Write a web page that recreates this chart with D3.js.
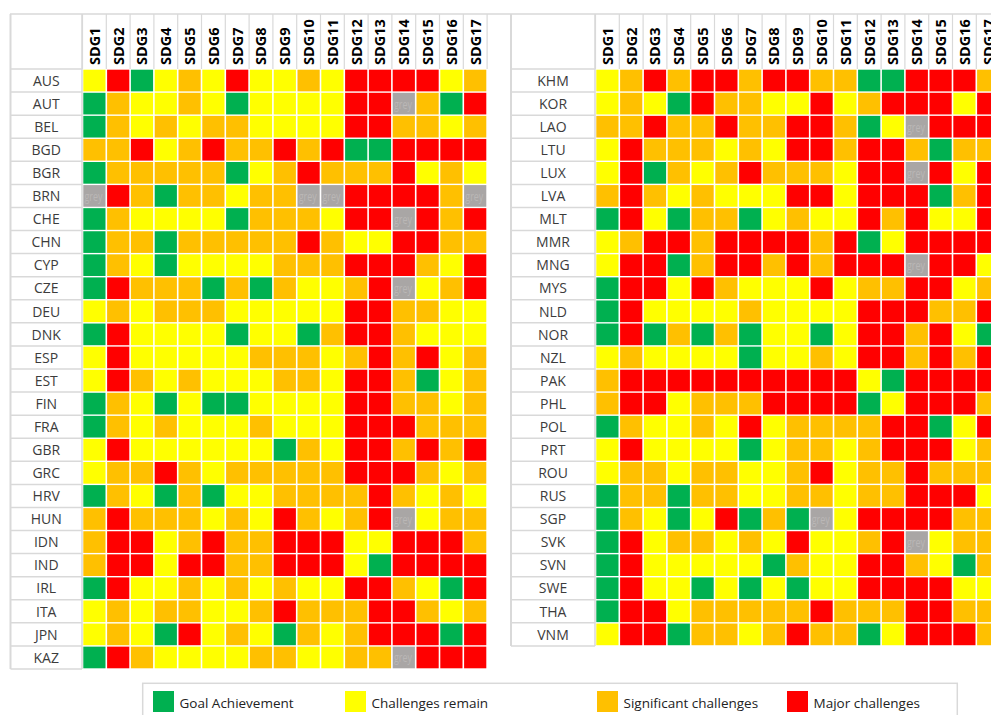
<!DOCTYPE html>
<html><head><meta charset="utf-8">
<script src="https://cdn.jsdelivr.net/npm/d3@7"></script>
<style>body{margin:0;background:#fff}svg{display:block}</style>
</head><body>
<svg id="c" width="991" height="715"></svg>
<script>
// ---------------- DATA ----------------
const sdgs = ["SDG1","SDG2","SDG3","SDG4","SDG5","SDG6","SDG7","SDG8","SDG9","SDG10","SDG11","SDG12","SDG13","SDG14","SDG15","SDG16","SDG17"];
// status codes: G = goal achievement, Y = challenges remain, O = significant challenges, R = major challenges, X = grey (no data)
const statusCodes = ["G","Y","O","R","X"];
const legendLabels = ["Goal Achievement","Challenges remain","Significant challenges","Major challenges"];

const countriesLeft = ["AUS","AUT","BEL","BGD","BGR","BRN","CHE","CHN","CYP","CZE","DEU","DNK","ESP","EST","FIN","FRA","GBR","GRC","HRV","HUN","IDN","IND","IRL","ITA","JPN","KAZ"];
const statusLeft = [
  "YRGYOYRYYOYRRRRYO","GOYYOYGYYYYRRXOGR","GOYOYOOYYYYRROOYO","OORYOROORORGGRRRR",
  "GOOOOOGYOROOORYOY","XROGOOYOOXXRRRROX","GOYYYYGOOOYRRXROR","GOOGOOOOOROYYRROO",
  "GOYGYYYYOOORRROYR","GROOOGOGOYYORXYOR","YOYOOOYYYYYRROOYY","GRYYYYGYYGORROYYY",
  "YRYYYYYOOOYORORYO","YROYOYYYOOYRROGYO","GOYGYGGYYYYRROOYO","GOYOYYYOYYYRRROOO",
  "YRYYYYYYGOYRROROR","YOOROYOOOOORRROYO","GOYGOGYYOOOOROYOY","OROOOYOYROYORXYOO",
  "ORRYOROORRRYYRRRO","ORRYRROORRRYGRRRR","GRYYOYOYOYYRROYGR","YOYOOYYOROOORROYO",
  "YOYGRYOYGOYORRRGR","GROYYYYOOYYOOXRRR"
];

const countriesRight = ["KHM","KOR","LAO","LTU","LUX","LVA","MLT","MMR","MNG","MYS","NLD","NOR","NZL","PAK","PHL","POL","PRT","ROU","RUS","SGP","SVK","SVN","SWE","THA","VNM"];
const statusRight = [
  "YORORRORROOGGRRRO","YOYGROOYYRYORRRYR","OOROOROORROGYXRRR","YROOOYOYRRORROGOO",
  "YRGOYOROOOYRRXRYR","OROYOYYYRRYRRRGOR","GRYGOOGYOYYRORYYR","YORRORRRRORGYRRRR",
  "YRRGORRORORRRXRRY","GRRYROYYYRYOORRYO","GRYYYYOYYYYRRROOR","GRGOGOGYYGYRRORYG",
  "YOYYYYGYYOYRROROR","ORRRRRRRRRRYGRRRR","ORRYOOORRRRGYRRRO","GOYYOYRYOOOORRGYR",
  "YRYYYYGYOOYORRRYO","YOOYOOYYORYOOROOO","GOOGOOYYOOYOORRRY","GOYGYRGOGXYRRRROO",
  "GRYOOYOYRYYORXYOO","GRYYYYYGOYYRROYGO","GRYYGYGYGYYRRRRYY","GRRYOOOOOROOORROO",
  "YRRGOOYOROOGYRRRO"
];

// ---------------- DRAW ----------------
(function () {
const svg = d3.select("#c");
const color = d3.scaleOrdinal().domain(statusCodes).range(["#00B050","#FFFF00","#FFC000","#FF0000","#A9A6A5"]);
const gridC = "#d9d9d9";
const rowStep = 600/26;
const colStep = 23.8;
const topY = 14, headBottom = 69;
let clipN = 0;

function panel(countries, rows, labelX0, labelX1, x0) {
  const g = svg.append("g");
  const x = d3.scaleBand().domain(sdgs).range([x0, x0 + colStep*sdgs.length]);
  const y = d3.scaleBand().domain(countries).range([headBottom, headBottom + rowStep*countries.length]);
  const yEnd = headBottom + rowStep*countries.length;
  // label column cells
  g.selectAll("line.rowl").data(d3.range(countries.length+1)).join("line")
    .attr("x1", labelX0).attr("x2", labelX1)
    .attr("y1", i => headBottom + i*rowStep).attr("y2", i => headBottom + i*rowStep)
    .attr("stroke", gridC).attr("stroke-width", 1.5);
  g.append("line").attr("x1", labelX0).attr("x2", labelX0).attr("y1", topY).attr("y2", yEnd)
    .attr("stroke", gridC).attr("stroke-width", 2);
  g.append("line").attr("x1", labelX1).attr("x2", labelX1).attr("y1", topY).attr("y2", yEnd)
    .attr("stroke", gridC).attr("stroke-width", 1.5);
  // header column separators
  g.selectAll("line.hc").data(d3.range(sdgs.length+1)).join("line")
    .attr("x1", i => x0 + i*colStep).attr("x2", i => x0 + i*colStep)
    .attr("y1", topY).attr("y2", headBottom)
    .attr("stroke", gridC).attr("stroke-width", 1.2);
  // header labels
  g.selectAll("text.h").data(sdgs).join("text")
    .attr("transform", d => `translate(${x(d)+x.bandwidth()/2+5.3},65) rotate(-90)`)
    .attr("font-family", "'Open Sans', sans-serif").attr("font-weight", 700)
    .attr("font-size", 14.5).attr("fill", "#000").text(d => d);
  // row labels
  g.selectAll("text.r").data(countries).join("text")
    .attr("x", (labelX0+labelX1)/2).attr("y", d => y(d)+y.bandwidth()/2+5.2)
    .attr("text-anchor", "middle")
    .attr("font-family", "'Open Sans', sans-serif").attr("font-size", 14)
    .attr("fill", "#3c3c3c").text(d => d);
  // cells
  const cells = [];
  countries.forEach((c, ri) => sdgs.forEach((s, ci) => cells.push({c, s, v: rows[ri][ci]})));
  g.selectAll("rect.cell").data(cells).join("rect")
    .attr("x", d => x(d.s)+0.8).attr("y", d => y(d.c)+0.7)
    .attr("width", x.bandwidth()-1.6).attr("height", y.bandwidth()-1.4)
    .attr("fill", d => color(d.v));
  // faint "grey" text inside grey cells
  cells.filter(d => d.v === "X").forEach(d => {
    const id = "clip" + (clipN++);
    svg.append("clipPath").attr("id", id).append("rect")
      .attr("x", x(d.s)+0.8).attr("y", y(d.c)+0.7)
      .attr("width", x.bandwidth()-1.6).attr("height", y.bandwidth()-1.4);
    g.append("text").attr("clip-path", `url(#${id})`)
      .attr("x", x(d.s)+2).attr("y", y(d.c)+y.bandwidth()/2+5)
      .attr("textLength", 18).attr("lengthAdjust", "spacingAndGlyphs")
      .attr("font-family", "'Open Sans', sans-serif").attr("font-size", 13)
      .attr("fill", "#bab7b6").text("grey");
  });
}

// top border line
svg.append("line").attr("x1", 10).attr("x2", 991).attr("y1", topY).attr("y2", topY)
  .attr("stroke", gridC).attr("stroke-width", 1.5);

panel(countriesLeft, statusLeft, 10.5, 82, 82.5);
panel(countriesRight, statusRight, 511, 595, 595.5);

// legend
svg.append("rect").attr("x", 142.7).attr("y", 683.3).attr("width", 814.6).attr("height", 40)
  .attr("fill", "none").attr("stroke", gridC).attr("stroke-width", 1.5);
const legX = [153, 345, 597, 787];
const lg = svg.append("g").selectAll("g").data(legendLabels).join("g")
  .attr("transform", (d, i) => `translate(${legX[i]},691)`);
lg.append("rect").attr("width", 21).attr("height", 21).attr("fill", (d, i) => color(statusCodes[i]));
lg.append("text").attr("x", 26.5).attr("y", 17.3)
  .attr("font-family", "'Open Sans', sans-serif").attr("font-size", 13.5)
  .attr("fill", "#222").text(d => d);
})();
</script>
</body></html>
